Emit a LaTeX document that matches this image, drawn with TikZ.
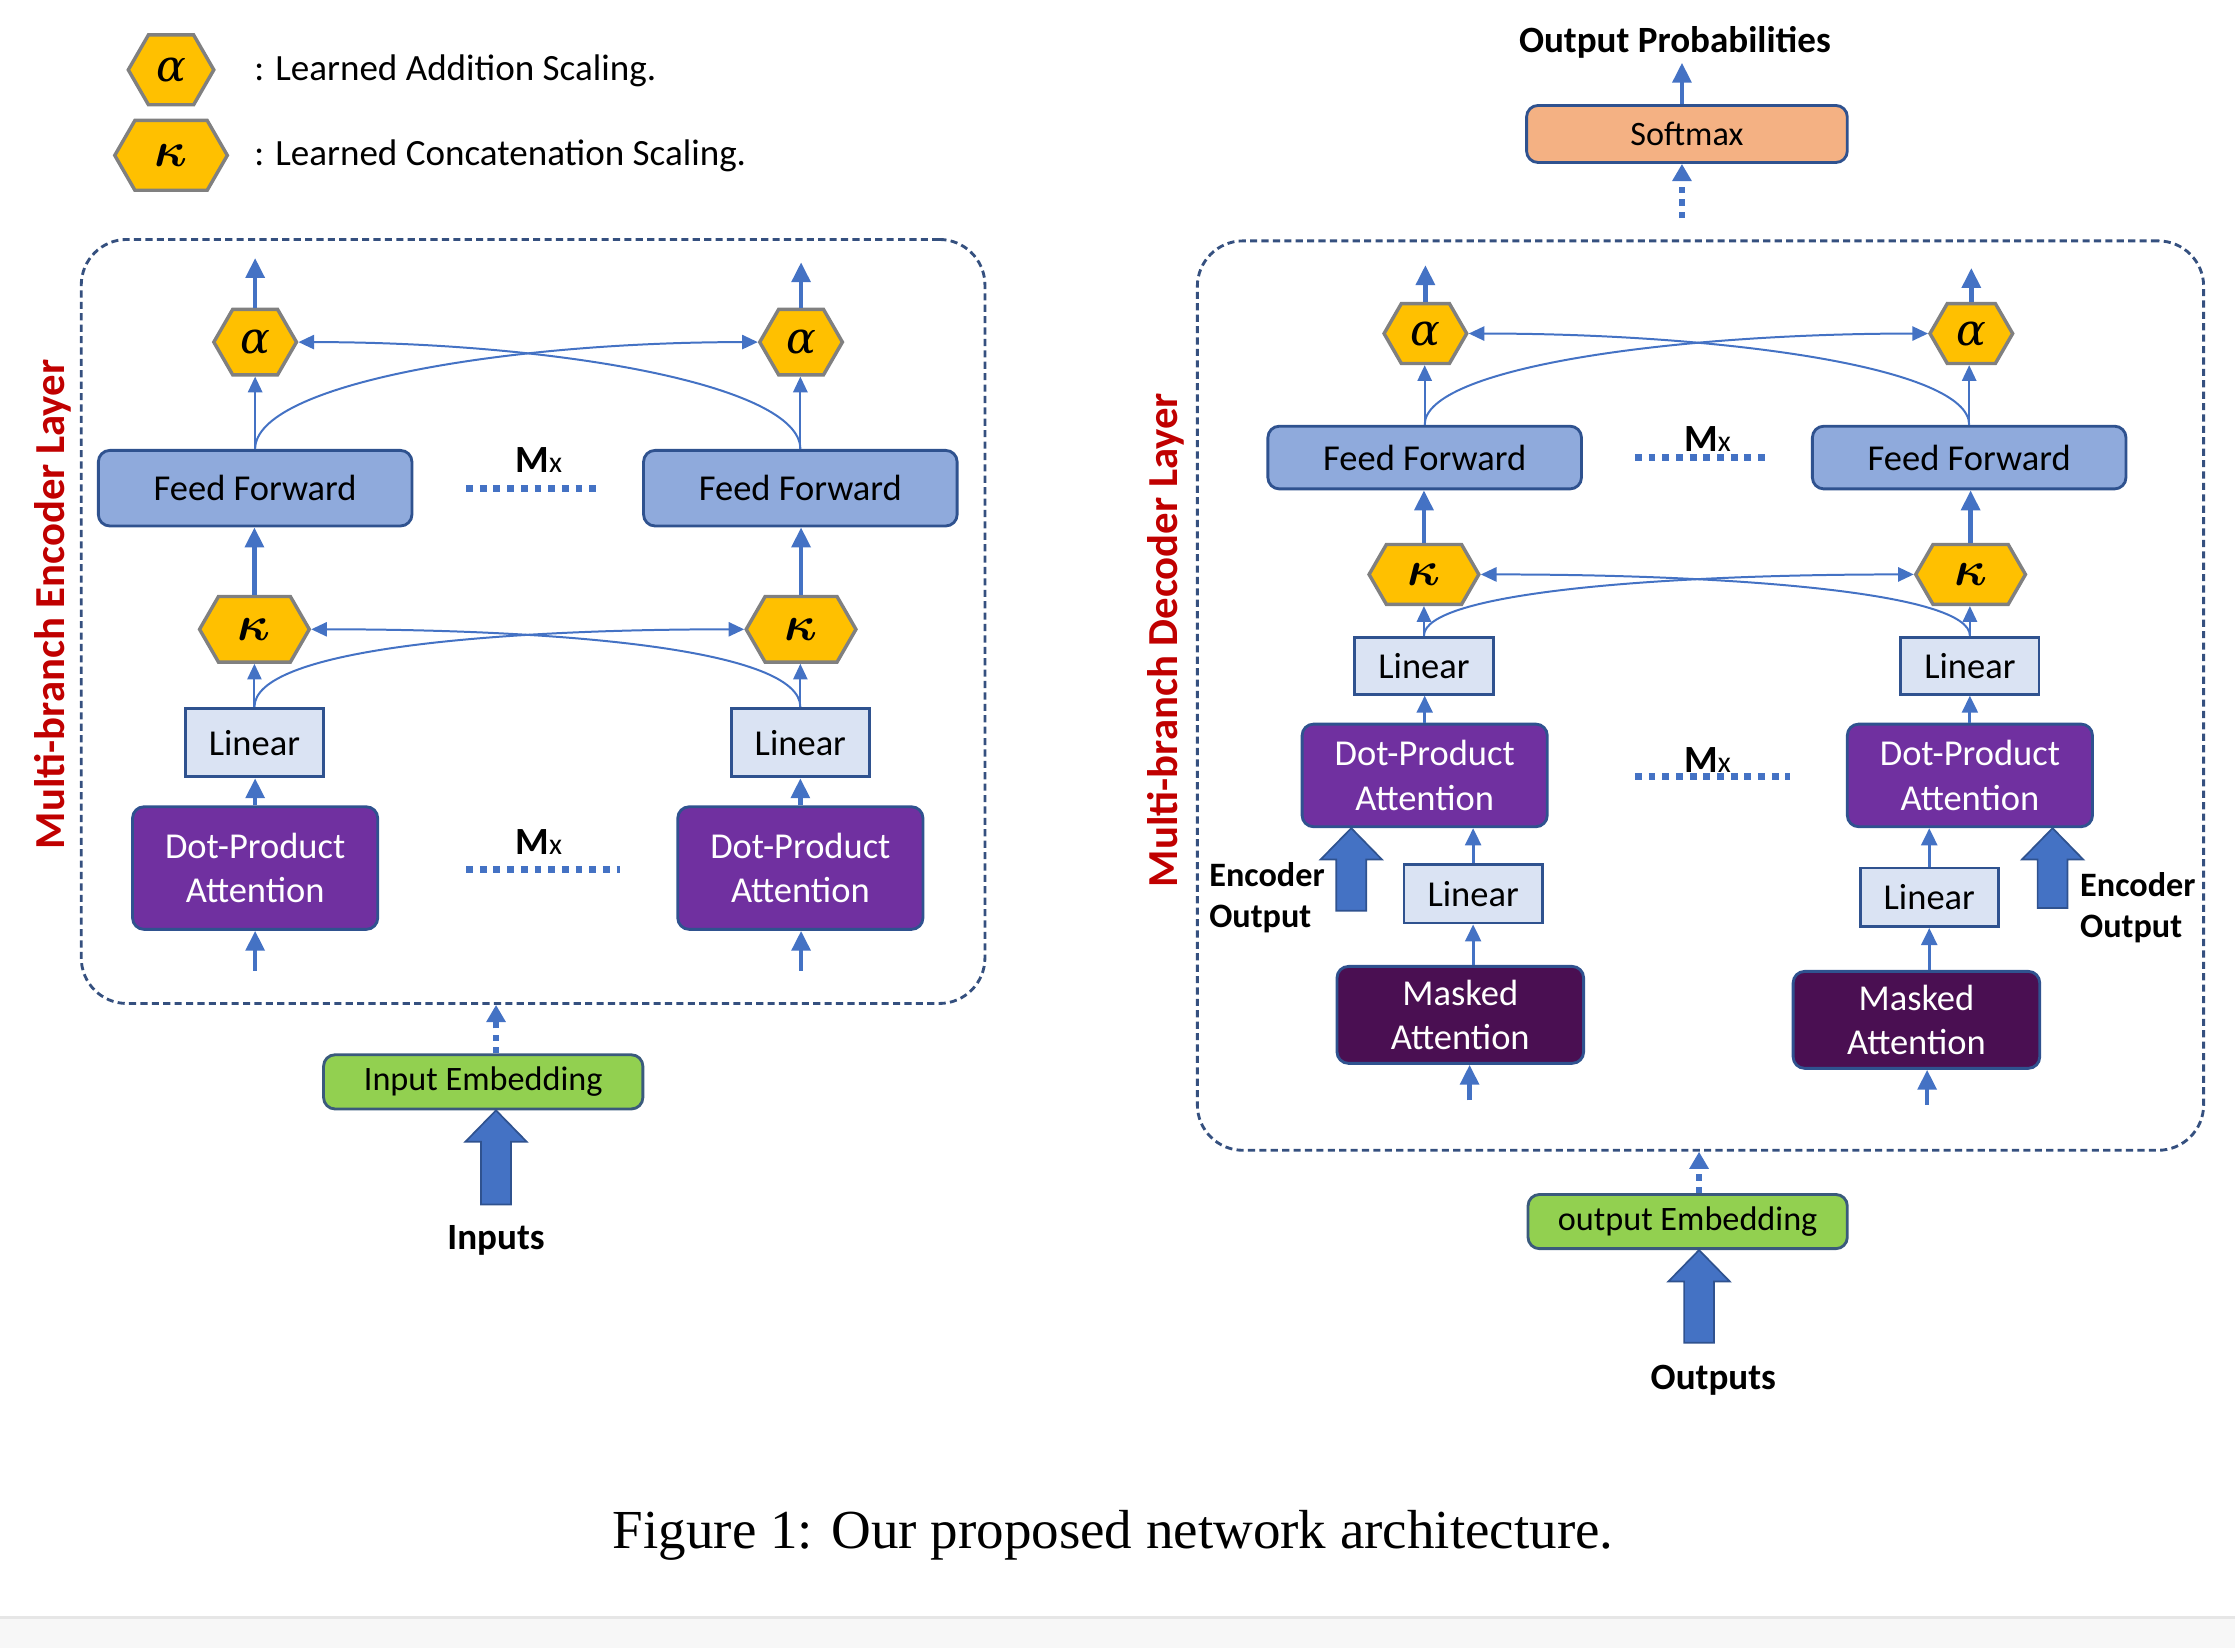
\documentclass[tikz,border=0pt]{standalone}
\usepackage{amsmath}
\usepackage{fontspec}
\setmainfont{Carlito}
\newfontfamily\capfont{Liberation Serif}
\newfontfamily\greekfont{DejaVu Serif}
\usetikzlibrary{arrows.meta,shapes.symbols,calc}

\definecolor{arrowblue}{HTML}{4472C4}
\definecolor{boxline}{HTML}{2F528F}
\definecolor{layerline}{HTML}{35507F}
\definecolor{fffill}{HTML}{8FAADC}
\definecolor{linfill}{HTML}{DAE3F3}
\definecolor{dpafill}{HTML}{7030A0}
\definecolor{maskfill}{HTML}{4A0F52}
\definecolor{softfill}{HTML}{F4B183}
\definecolor{embfill}{HTML}{92D050}
\definecolor{embline}{HTML}{3A5A7C}
\definecolor{hexfill}{HTML}{FFC000}
\definecolor{hexline}{HTML}{808080}
\definecolor{labelred}{HTML}{C00000}
\definecolor{bandgray}{HTML}{F7F7F7}
\definecolor{bandline}{HTML}{E6E6E6}

\newcommand{\fatarrow}[2]{%
  \draw[fill=arrowblue,draw=boxline,line width=0.6pt]
    (#2) -- ($(#2)+(21.5,22)$) -- ($(#2)+(10.5,22)$) -- ($(#1)+(10.5,0)$)
    -- ($(#1)+(-10.5,0)$) -- ($(#2)+(-10.5,22)$) -- ($(#2)+(-21.5,22)$) -- cycle;}
\newcommand{\galpha}{{\greekfont\itshape α}}
\newcommand{\gkappa}{{\fontsize{17}{20}\selectfont$\boldsymbol{\kappa}$}}
\newcommand{\mxtext}{M{\fontsize{10.5}{12}\selectfont\mdseries x}}

\begin{document}
\begin{tikzpicture}[x=0.5pt,y=-0.5pt,
  every node/.style={font=\fontsize{12.8}{15.5}\selectfont},
  blockbox/.style={draw=boxline,line width=1pt,rounded corners=4pt,align=center,inner sep=0pt},
  ffbox/.style={blockbox,fill=fffill,minimum width=110pt,minimum height=26.5pt},
  linbox/.style={draw=boxline,line width=1pt,fill=linfill,inner sep=0pt,minimum width=48.5pt,minimum height=24pt},
  dpabox/.style={blockbox,fill=dpafill,text=white,minimum width=86pt,minimum height=43pt},
  maskbox/.style={blockbox,fill=maskfill,text=white,minimum width=86.5pt,minimum height=34pt},
  embbox/.style={blockbox,draw=embline,fill=embfill,font=\fontsize{12}{14}\selectfont,minimum width=112pt,minimum height=19pt},
  hexa/.style={shape=signal,signal to=east and west,signal pointer angle=120,draw=hexline,line width=1.2pt,
    fill=hexfill,inner sep=0pt,minimum width=29pt,minimum height=23pt,font=\fontsize{15.5}{18}\selectfont},
  hexk/.style={hexa,minimum width=38.5pt},
  flow/.style={arrowblue,line width=1.6pt,-{Triangle[length=7pt,width=6.5pt]}},
  medflow/.style={arrowblue,line width=1.1pt,-{Triangle[length=6pt,width=5.5pt]}},
  thinflow/.style={arrowblue,line width=0.7pt,-{Triangle[length=5.5pt,width=5pt]}},
  mxline/.style={arrowblue,line width=2.4pt,dash pattern=on 2.4pt off 2.4pt},
  dotflow/.style={arrowblue,line width=2pt,dash pattern=on 2.2pt off 2.2pt,-{Triangle[length=6pt,width=6.5pt]}},
  layer/.style={draw=layerline,line width=1pt,dash pattern=on 2.5pt off 1.5pt,rounded corners=16pt,inner sep=0pt},
  layerlabel/.style={rotate=90,text=labelred,font=\fontsize{15}{18}\selectfont\bfseries},
  bold/.style={inner sep=0pt,font=\fontsize{13}{16}\selectfont\bfseries},
  mx/.style={inner sep=0pt,font=\fontsize{13.5}{16}\selectfont\bfseries}]
  \useasboundingbox (0,0) rectangle (1568,1156);

  % legend
  \node[hexa,minimum width=30pt,minimum height=24.5pt] (legal) at (120,49) {\galpha};
  \node[hexk,minimum width=39.5pt,minimum height=24.5pt] (legka) at (120,109) {\gkappa};
  \node[anchor=west,inner sep=0pt,font=\fontsize{13}{16}\selectfont] (legaltxt) at (178,50) {: Learned Addition Scaling.};
  \node[anchor=west,inner sep=0pt,font=\fontsize{13}{16}\selectfont] (legkatxt) at (178,109) {: Learned Concatenation Scaling.};

  % layers
  \node[layer,minimum width=317pt,minimum height=268pt] (encbox) at (374,436) {};
  \node[layer,minimum width=353pt,minimum height=319pt] (decbox) at (1193,488) {};
  \node[layerlabel] (enclabel) at (37,424) {Multi-branch Encoder Layer};
  \node[layerlabel] (declabel) at (818,449) {Multi-branch Decoder Layer};

  % encoder
  \node[hexa] (alE1) at (179,240) {\galpha};
  \node[hexa] (alE2) at (562,240) {\galpha};
  \node[ffbox] (ffE1) at (179,342.5) {Feed Forward};
  \node[ffbox] (ffE2) at (561.5,342.5) {Feed Forward};
  \node[hexk] (kaE1) at (178.5,441.5) {\gkappa};
  \node[hexk] (kaE2) at (562,441.5) {\gkappa};
  \node[linbox] (linE1) at (178.5,521) {Linear};
  \node[linbox] (linE2) at (561.5,521) {Linear};
  \node[dpabox] (dpaE1) at (179,609) {Dot-Product\\Attention};
  \node[dpabox] (dpaE2) at (561.5,609) {Dot-Product\\Attention};
  \coordinate (outE1) at (179,181);
  \coordinate (outE2) at (562,184);
  \coordinate (inE1) at (179,681);
  \coordinate (inE2) at (562,681);
  \node[mx] (mxE1) at (378,323) {\mxtext};
  \node[mx] (mxE2) at (378,591) {\mxtext};
  \draw[mxline] (327,343) -- (421,343);
  \draw[mxline] (327,610) -- (435,610);

  \draw[flow] (alE1.north) -- (outE1);
  \draw[flow] (alE2.north) -- (outE2);
  \draw[thinflow] (ffE1.north) -- (ffE1.north |- alE1.south);
  \draw[thinflow] (ffE2.north) -- (ffE2.north |- alE2.south);
  \draw[thinflow] (ffE1.north) .. controls +(0,-45) and +(-180,0) .. (alE2.west);
  \draw[thinflow] (ffE2.north) .. controls +(0,-45) and +(180,0) .. (alE1.east);
  \draw[flow] (kaE1.north) -- (kaE1.north |- ffE1.south);
  \draw[flow] (kaE2.north) -- (kaE2.north |- ffE2.south);
  \draw[thinflow] (linE1.north) -- (linE1.north |- kaE1.south);
  \draw[thinflow] (linE2.north) -- (linE2.north |- kaE2.south);
  \draw[thinflow] (linE1.north) .. controls +(0,-40) and +(-180,0) .. (kaE2.west);
  \draw[thinflow] (linE2.north) .. controls +(0,-40) and +(180,0) .. (kaE1.east);
  \draw[flow] (dpaE1.north) -- (dpaE1.north |- linE1.south);
  \draw[flow] (dpaE2.north) -- (dpaE2.north |- linE2.south);
  \draw[flow] (inE1) -- (inE1 |- dpaE1.south);
  \draw[flow] (inE2) -- (inE2 |- dpaE2.south);

  % input side
  \node[embbox] (inemb) at (339,759) {Input Embedding};
  \node[bold] (inputs) at (348,870) {Inputs};
  \coordinate (inbase) at (348,845);
  \coordinate (intip) at (inbase |- inemb.south);
  \fatarrow{inbase}{intip}
  \draw[dotflow] (inbase |- inemb.north) -- (inbase |- encbox.south);

  % decoder
  \node[hexa,minimum height=21pt] (alD1) at (1000,234) {\galpha};
  \node[hexa,minimum height=21pt] (alD2) at (1383,234) {\galpha};
  \node[ffbox,minimum height=22pt] (ffD1) at (999.5,321) {Feed Forward};
  \node[ffbox,minimum height=22pt] (ffD2) at (1381.5,321) {Feed Forward};
  \node[hexk,minimum height=21pt] (kaD1) at (999,403) {\gkappa};
  \node[hexk,minimum height=21pt] (kaD2) at (1382.5,403) {\gkappa};
  \node[linbox,minimum height=20pt] (linD1) at (999,467) {Linear};
  \node[linbox,minimum height=20pt] (linD2) at (1382,467) {Linear};
  \node[dpabox,minimum height=36pt] (dpaD1) at (999.5,544) {Dot-Product\\Attention};
  \node[dpabox,minimum height=36pt] (dpaD2) at (1382,544) {Dot-Product\\Attention};
  \node[linbox,minimum height=20.5pt] (linD3) at (1033.5,627) {Linear};
  \node[linbox,minimum height=20.5pt] (linD4) at (1353.5,629.5) {Linear};
  \node[maskbox] (maskD1) at (1024.5,712) {Masked\\Attention};
  \node[maskbox] (maskD2) at (1344.5,715.5) {Masked\\Attention};
  \coordinate (outD1) at (1000,186);
  \coordinate (outD2) at (1383,188);
  \coordinate (inD1) at (1031,772);
  \coordinate (inD2) at (1352,775);
  \node[mx] (mxD1) at (1198,308) {\mxtext};
  \node[mx] (mxD2) at (1198,533) {\mxtext};
  \draw[mxline] (1147,321) -- (1240,321);
  \draw[mxline] (1147,545) -- (1256,545);

  \draw[flow] (alD1.north) -- (outD1);
  \draw[flow] (alD2.north) -- (outD2);
  \draw[thinflow] (ffD1.north) -- (ffD1.north |- alD1.south);
  \draw[thinflow] (ffD2.north) -- (ffD2.north |- alD2.south);
  \draw[thinflow] (ffD1.north) .. controls +(0,-40) and +(-180,0) .. (alD2.west);
  \draw[thinflow] (ffD2.north) .. controls +(0,-40) and +(180,0) .. (alD1.east);
  \draw[flow] (kaD1.north) -- (kaD1.north |- ffD1.south);
  \draw[flow] (kaD2.north) -- (kaD2.north |- ffD2.south);
  \draw[thinflow] (linD1.north) -- (linD1.north |- kaD1.south);
  \draw[thinflow] (linD2.north) -- (linD2.north |- kaD2.south);
  \draw[thinflow] (linD1.north) .. controls +(0,-30) and +(-180,0) .. (kaD2.west);
  \draw[thinflow] (linD2.north) .. controls +(0,-30) and +(180,0) .. (kaD1.east);
  \draw[medflow] (dpaD1.north) -- (dpaD1.north |- linD1.south);
  \draw[medflow] (linD2.south |- dpaD2.north) -- (linD2.south);
  \draw[medflow] (linD3.north) -- (linD3.north |- dpaD1.south);
  \draw[medflow] (linD4.north) -- (linD4.north |- dpaD2.south);
  \draw[medflow] (linD3.south |- maskD1.north) -- (linD3.south);
  \draw[medflow] (linD4.south |- maskD2.north) -- (linD4.south);
  \draw[flow] (inD1) -- (inD1 |- maskD1.south);
  \draw[flow] (inD2) -- (inD2 |- maskD2.south);

  % encoder outputs into the decoder
  \coordinate (eoD1) at (948,639);
  \coordinate (eoD1tip) at (eoD1 |- dpaD1.south);
  \fatarrow{eoD1}{eoD1tip}
  \coordinate (eoD2) at (1440,637);
  \coordinate (eoD2tip) at (eoD2 |- dpaD2.south);
  \fatarrow{eoD2}{eoD2tip}
  \node[bold,font=\fontsize{12}{14.5}\selectfont\bfseries,align=left,anchor=west] (eoD1txt) at (848,630) {Encoder\\Output};
  \node[bold,font=\fontsize{12}{14.5}\selectfont\bfseries,align=left,anchor=west] (eoD2txt) at (1459,637) {Encoder\\Output};

  % output side
  \node[embbox] (outemb) at (1184,857) {output Embedding};
  \node[bold] (outputs) at (1202,968) {Outputs};
  \coordinate (outbase) at (1192,942);
  \coordinate (outtip) at (outbase |- outemb.south);
  \fatarrow{outbase}{outtip}
  \draw[dotflow] (outbase |- outemb.north) -- (outbase |- decbox.south);

  \node[blockbox,fill=softfill,font=\fontsize{12}{14}\selectfont,minimum width=112.5pt,minimum height=20pt] (soft) at (1183.5,94) {Softmax};
  \node[bold] (outprob) at (1175,30) {Output Probabilities};
  \coordinate (softin) at (1180,153);
  \coordinate (softout) at (1180,44);
  \draw[flow] (softin |- soft.north) -- (softout);
  \draw[dotflow] (softin) -- (softin |- soft.south);

  % caption
  \node[inner sep=0pt,font=\capfont\fontsize{19.3}{23}\selectfont] (caption) at (781,1077) {Figure 1: Our proposed network architecture.};
  \fill[bandgray] (0,1135) rectangle (1568,1156);
  \draw[bandline,line width=1pt] (0,1135) -- (1568,1135);
\end{tikzpicture}
\end{document}
